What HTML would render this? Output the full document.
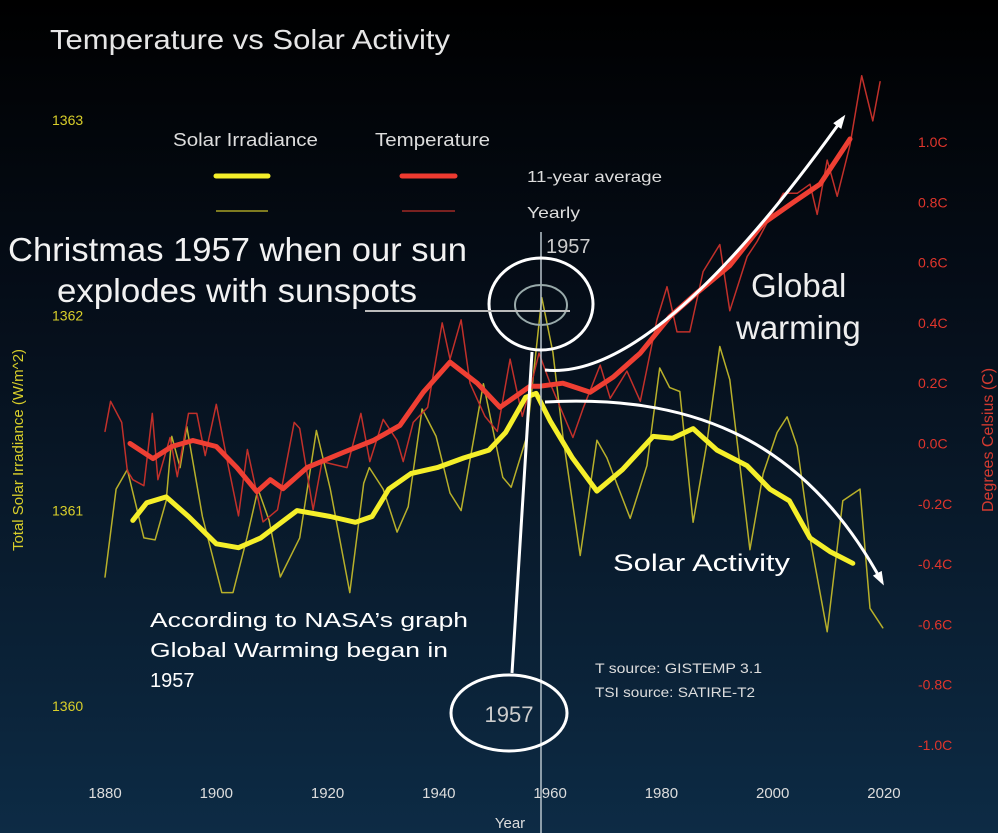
<!DOCTYPE html>
<html><head><meta charset="utf-8"><style>
html,body{margin:0;padding:0;background:#000;}
svg{display:block;font-family:"Liberation Sans",sans-serif;}
</style></head><body>
<svg id="chart" width="998" height="833" viewBox="0 0 998 833" xmlns="http://www.w3.org/2000/svg">
<defs><linearGradient id="bg" x1="0" y1="0" x2="0" y2="1">
<stop offset="0" stop-color="#000000"/><stop offset="0.35" stop-color="#050d18"/><stop offset="1" stop-color="#0d2b45"/></linearGradient>
<marker id="ah" markerWidth="14" markerHeight="10" refX="10" refY="5" orient="auto" markerUnits="userSpaceOnUse"><path d="M0,0 L14,5 L0,10 Z" fill="#fff"/></marker></defs>
<rect x="0" y="0" width="998" height="833" fill="url(#bg)"/>
<text x="50" y="49" font-size="28" fill="#e6e6e6" textLength="400" lengthAdjust="spacingAndGlyphs">Temperature vs Solar Activity</text>
<g>
<text x="173" y="146" font-size="18" fill="#ddd" textLength="145" lengthAdjust="spacingAndGlyphs">Solar Irradiance</text>
<text x="375" y="146" font-size="18" fill="#ddd" textLength="115" lengthAdjust="spacingAndGlyphs">Temperature</text>
<line x1="216" y1="176" x2="268" y2="176" stroke="#f5ef2a" stroke-width="5" stroke-linecap="round"/>
<line x1="402" y1="176" x2="455" y2="176" stroke="#ee3a30" stroke-width="5" stroke-linecap="round"/>
<line x1="216" y1="211" x2="268" y2="211" stroke="#c8bf2a" stroke-width="1.2"/>
<line x1="402" y1="211" x2="455" y2="211" stroke="#c0302a" stroke-width="1.2"/>
<text x="527" y="182" font-size="16" fill="#ddd" textLength="135" lengthAdjust="spacingAndGlyphs">11-year average</text>
<text x="527" y="218" font-size="16" fill="#ddd" textLength="53" lengthAdjust="spacingAndGlyphs">Yearly</text>
</g>
<g id="axes"></g>
<g id="series"></g>
<line x1="541" y1="232" x2="541" y2="833" stroke="#b8c4cc" stroke-width="1.5"/>
<text x="546" y="253" font-size="20" fill="#ccc">1957</text>
<g fill="none" stroke="#fff">
<ellipse cx="541" cy="304" rx="52" ry="46" stroke-width="3"/>
<ellipse cx="541" cy="305" rx="26" ry="20" stroke="#9aa" stroke-width="2"/>
<line x1="365" y1="311" x2="570" y2="311" stroke="#bbb" stroke-width="2"/>
<line x1="532" y1="352" x2="512" y2="673" stroke-width="3"/>
<ellipse cx="509" cy="713" rx="58" ry="38" stroke-width="3"/>
<path d="M545,370 C620,378 720,290 843,118" stroke-width="3" marker-end="url(#ah)"/>
<path d="M545,402 C680,395 800,430 882,582" stroke-width="3" marker-end="url(#ah)"/>
</g>
<text x="509" y="722" font-size="22" fill="#ccc" text-anchor="middle">1957</text>
<text font-size="33" fill="#f2f2f2"><tspan x="8" y="261" textLength="459" lengthAdjust="spacingAndGlyphs">Christmas 1957 when our sun</tspan><tspan x="57" y="302" textLength="360" lengthAdjust="spacingAndGlyphs">explodes with sunspots</tspan></text>
<text font-size="33" fill="#eee"><tspan x="751" y="297">Global</tspan><tspan x="736" y="339">warming</tspan></text>
<text x="613" y="571" font-size="24" fill="#fff" textLength="177" lengthAdjust="spacingAndGlyphs">Solar Activity</text>
<text font-size="20" fill="#fff"><tspan x="150" y="627" textLength="318" lengthAdjust="spacingAndGlyphs">According to NASA’s graph</tspan><tspan x="150" y="657" textLength="298" lengthAdjust="spacingAndGlyphs">Global Warming began in</tspan><tspan x="150" y="687">1957</tspan></text>
<text font-size="14" fill="#ddd"><tspan x="595" y="673" textLength="167" lengthAdjust="spacingAndGlyphs">T source: GISTEMP 3.1</tspan><tspan x="595" y="697" textLength="160" lengthAdjust="spacingAndGlyphs">TSI source: SATIRE-T2</tspan></text>
<text x="510" y="828" font-size="15" fill="#ddd" text-anchor="middle">Year</text>
<text transform="translate(23,450) rotate(-90)" font-size="15" fill="#d9cf2a" text-anchor="middle">Total Solar Irradiance (W/m^2)</text>
<text transform="translate(993,440) rotate(-90)" font-size="16" fill="#d23a30" text-anchor="middle">Degrees Celsius (C)</text>
</svg>
<script>
const xTicks = [1880,1900,1920,1940,1960,1980,2000,2020];
const tsiTicks = [1363,1362,1361,1360];
const tempTicks = [1.0,0.8,0.6,0.4,0.2,0.0,-0.2,-0.4,-0.6,-0.8,-1.0];

const tempYearlyYears = [1880,1881,1883,1884,1885,1887,1888.5,1889.5,1891.7,1893,1895,1896.5,1898,1900,1902,1904,1905.6,1908.4,1911,1914,1915,1917.4,1919,1923.5,1926,1927.6,1930,1932.5,1933.6,1935.4,1938,1940.6,1942,1944,1945.6,1948.3,1950.5,1952.8,1955,1956.4,1958,1960,1964.1,1966,1969,1970.8,1973.8,1976.2,1979.2,1981,1982.8,1985.1,1987.5,1990.5,1992.3,1995.4,1997.2,1999.5,2001.9,2004.4,2006.7,2008,2009.8,2011.6,2013.9,2016,2018,2019.3];
const tempYearly = [0.04,0.14,0.07,-0.09,-0.12,-0.14,0.10,-0.12,0.02,-0.11,0.10,0.10,-0.04,0.13,-0.06,-0.24,-0.02,-0.26,-0.22,0.07,0.05,-0.22,-0.06,-0.08,0.10,-0.06,0.08,0.01,-0.06,0.07,0.12,0.40,0.28,0.41,0.20,0.09,0.04,0.28,0.09,0.18,0.30,0.20,0.02,0.12,0.26,0.15,0.24,0.14,0.41,0.52,0.37,0.37,0.57,0.66,0.44,0.62,0.67,0.75,0.83,0.83,0.86,0.76,0.94,0.82,0.99,1.22,1.07,1.20];

const tempAvgYears = [1884.5,1888.6,1892,1895.8,1900,1903.7,1907.3,1909.7,1912,1916.3,1922.8,1928.2,1933,1937.2,1942,1946.9,1951,1956.4,1958.2,1962.3,1967.2,1971.3,1976.2,1981.5,1986.4,1992.3,1998.3,2003.7,2008.5,2013.9];
const tempAvg = [0.00,-0.05,-0.01,0.01,-0.01,-0.08,-0.16,-0.12,-0.15,-0.08,-0.03,0.01,0.06,0.17,0.27,0.20,0.12,0.19,0.19,0.20,0.17,0.22,0.30,0.42,0.50,0.59,0.73,0.80,0.86,1.01];

const tsiYearlyYears = [1880,1882,1884,1887,1889,1891,1892,1893.5,1894.7,1897.5,1901,1903,1905.5,1907.5,1909.5,1911.5,1915,1918,1920.5,1924,1926.5,1927.5,1930,1932.5,1934.5,1937,1939.5,1942,1944,1948,1951.5,1953,1955.8,1958.5,1960.5,1962.3,1965.4,1968.4,1970.2,1974.4,1977.4,1979.7,1981.5,1983.3,1985.7,1988.2,1990.5,1992.3,1995.9,1998.3,2000.8,2002.6,2004.4,2006.7,2009.8,2012.6,2015.7,2017.5,2019.8];
const tsiYearly = [1360.66,1361.11,1361.21,1360.86,1360.85,1361.05,1361.38,1361.22,1361.43,1360.97,1360.58,1360.58,1360.86,1361.11,1360.95,1360.66,1360.86,1361.41,1361.11,1360.58,1361.14,1361.22,1361.11,1360.89,1361.02,1361.52,1361.38,1361.09,1361.00,1361.65,1361.17,1361.12,1361.38,1362.09,1361.81,1361.38,1360.77,1361.36,1361.27,1360.96,1361.23,1361.73,1361.63,1361.61,1360.94,1361.35,1361.84,1361.67,1360.80,1361.19,1361.40,1361.48,1361.33,1360.86,1360.38,1361.05,1361.11,1360.50,1360.40];

const tsiAvgYears = [1885,1887.5,1891,1895,1900,1904,1908,1914.5,1920.5,1925,1928,1931,1935,1939.7,1944.5,1949,1952,1955.6,1957.5,1960,1964,1968.4,1973,1978.5,1982,1985.7,1990,1995.4,1999.5,2003,2006.7,2010.3,2014.4];
const tsiAvg = [1360.95,1361.04,1361.07,1360.97,1360.83,1360.81,1360.86,1361.00,1360.97,1360.94,1360.97,1361.11,1361.19,1361.22,1361.27,1361.31,1361.40,1361.58,1361.60,1361.46,1361.27,1361.10,1361.21,1361.38,1361.37,1361.42,1361.31,1361.23,1361.11,1361.05,1360.86,1360.79,1360.73];

const NS='http://www.w3.org/2000/svg';
function xScale(yr){return 105 + (yr-1880)*5.564;}
function yTemp(t){return 443.5 - t*301.5;}
function yTsi(v){return 120 + (1363-v)*195.3;}
function mk(tag,attrs,parent){const e=document.createElementNS(NS,tag);for(const k in attrs)e.setAttribute(k,attrs[k]);parent.appendChild(e);return e;}
const axes=document.getElementById('axes');
const series=document.getElementById('series');

xTicks.forEach(function(t){
  const e=mk('text',{x:xScale(t),y:798,'font-size':15,fill:'#ddd','text-anchor':'middle'},axes);
  
  
  e.textContent=t;
});
tsiTicks.forEach(function(t){
  const e=mk('text',{x:52,y:yTsi(t)+5,'font-size':14,fill:'#d9cf2a'},axes);
  
  
  e.textContent=t;
});
tempTicks.forEach(function(t){
  const e=mk('text',{x:918,y:yTemp(t)+5,'font-size':14,fill:'#e0352c'},axes);
  
  
  e.textContent=t.toFixed(1)+'C';
});

function line(xs,ys,yf,color,w,name){
  const d=xs.map(function(x,i){return (i?'L':'M')+xScale(x).toFixed(1)+','+yf(ys[i]).toFixed(1);}).join(' ');
  const p=mk('path',{d:d,fill:'none',stroke:color,'stroke-width':w,'stroke-linejoin':'round','stroke-linecap':'round'},series);
  
  
}
line(tsiYearlyYears,tsiYearly,yTsi,'#b8b02a',1.5,'tsi-yearly-line');
line(tempYearlyYears,tempYearly,yTemp,'#c2302a',1.5,'temp-yearly-line');
line(tempAvgYears,tempAvg,yTemp,'#ef3f33',5,'temp-11yr-line');
line(tsiAvgYears,tsiAvg,yTsi,'#f5ef2a',5,'tsi-11yr-line');
</script>
</body></html>
